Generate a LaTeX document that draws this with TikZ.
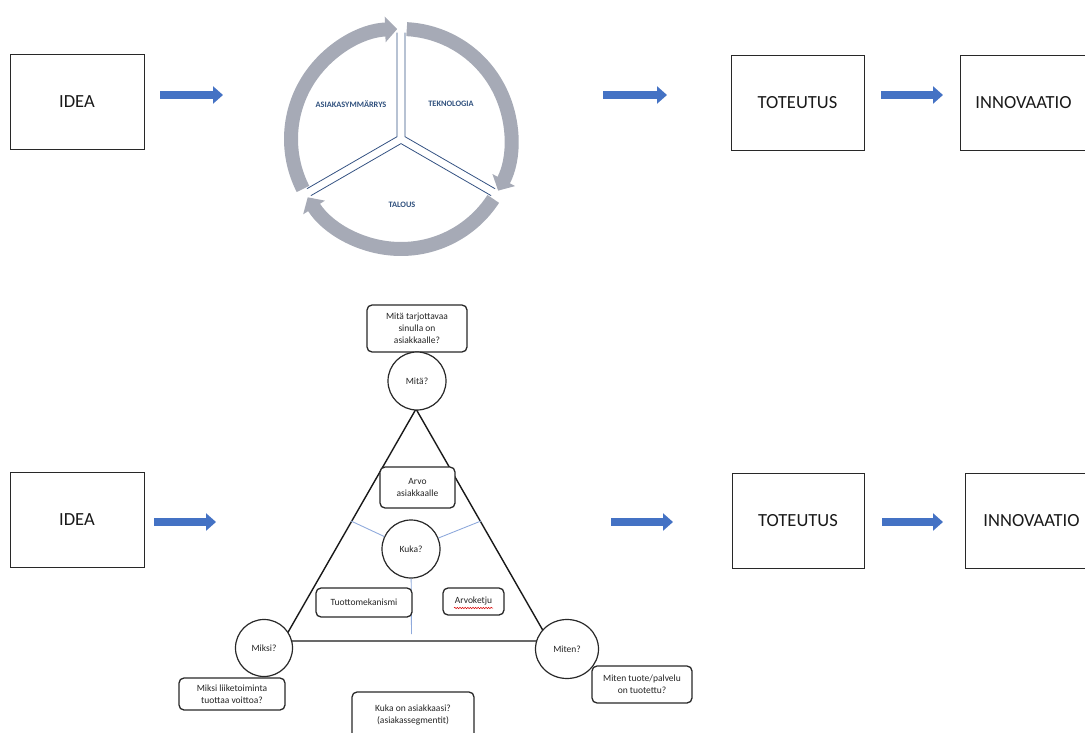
\documentclass[tikz,border=0pt]{standalone}
\usepackage{fontspec}
\setmainfont{Carlito}
\usetikzlibrary{arrows.meta,calc,decorations.pathmorphing,shapes.geometric}
\definecolor{arrowblue}{RGB}{68,114,196}
\definecolor{ringgray}{RGB}{166,170,182}
\definecolor{sectorblue}{RGB}{52,82,130}
\definecolor{labelblue}{RGB}{47,80,125}
\definecolor{spokeblue}{RGB}{143,170,220}
\definecolor{inkgray}{RGB}{40,40,40}

\begin{document}
\begin{tikzpicture}[x=1pt,y=-1pt,
  stagebox/.style={draw=inkgray, line width=0.9pt, minimum height=95pt, inner sep=0pt,
    font=\fontsize{18.5}{22}\selectfont, text=black!90},
  flowarrow/.style={draw=arrowblue, line width=8pt, -{Triangle[length=10pt,width=17pt]}},
  ringarc/.style={draw=ringgray, line width=14pt, -{Triangle[length=12pt,width=25pt]}},
  sectoredge/.style={draw=sectorblue, line width=0.8pt, line join=miter},
  ringlabel/.style={text=labelblue, font=\fontsize{8.3}{10}\selectfont\bfseries, inner sep=0pt},
  qbox/.style={draw=inkgray, line width=1.3pt, rounded corners=5pt, fill=white, align=center,
    inner sep=0pt, font=\fontsize{9.5}{12}\selectfont, text=black!85},
  qcircle/.style={circle, draw=inkgray, line width=1.2pt, fill=white, inner sep=0pt,
    font=\fontsize{9.5}{12}\selectfont, text=black!85},
  qoval/.style={ellipse, draw=inkgray, line width=1.2pt, fill=white, inner sep=0pt,
    font=\fontsize{9.5}{12}\selectfont, text=black!85},
  triedge/.style={draw=black!90, line width=1.4pt},
  spoke/.style={draw=spokeblue, line width=0.9pt}
]
\useasboundingbox (0,0) rectangle (1085,733);

% ---------------- upper chain ----------------
\node[stagebox, minimum width=134pt] (idea1) at (77,102) {IDEA};
\node[stagebox, minimum width=133pt] (tot1) at (797.5,102.5) {TOTEUTUS};
\node[stagebox, minimum width=127pt] (inn1) at (1023.5,102.5) {INNOVAATIO};

\coordinate (a1s) at (160,95);  \coordinate (a1e) at (223,95);
\coordinate (a2s) at (603,95);  \coordinate (a2e) at (667,95);
\coordinate (a3s) at (881,95);  \coordinate (a3e) at (943,95);
\draw[flowarrow] (a1s) -- (a1e);
\draw[flowarrow] (a2s) -- (a2e);
\draw[flowarrow] (a3s) -- (a3e);

% cycle of three sectors with circular arrows
\begin{scope}[shift={(401pt,-139pt)}, x=1pt, y=1pt]
  \draw[ringarc] (207:110) arc[start angle=207, end angle=92, radius=110];
  \draw[ringarc] (87:110) arc[start angle=87, end angle=-28, radius=110];
  \draw[ringarc] (-33:110) arc[start angle=-33, end angle=-148, radius=110];
  \foreach \a in {-30,90,210} {
    \draw[sectoredge] ($(\a+60:4.6)+(\a:104)$) -- (\a+60:4.6) -- ($(\a+60:4.6)+(\a+120:104)$);
  }
\end{scope}
\node[ringlabel] (asiakas) at (351,104) {ASIAKASYMMÄRRYS};
\node[ringlabel] (tekno) at (451,104) {TEKNOLOGIA};
\node[ringlabel] (talous) at (402,205) {TALOUS};

% ---------------- lower chain ----------------
\node[stagebox, minimum width=134pt] (idea2) at (77,520) {IDEA};
\node[stagebox, minimum width=132pt] (tot2) at (798,520.5) {TOTEUTUS};
\node[stagebox, minimum width=133pt] (inn2) at (1031.5,520.5) {INNOVAATIO};

\coordinate (b1s) at (154,522);  \coordinate (b1e) at (216,522);
\coordinate (b2s) at (611,522);  \coordinate (b2e) at (673,522);
\coordinate (b3s) at (882,522);  \coordinate (b3e) at (943,522);
\draw[flowarrow] (b1s) -- (b1e);
\draw[flowarrow] (b2s) -- (b2e);
\draw[flowarrow] (b3s) -- (b3e);

% business model triangle
\coordinate (tA) at (416,409);
\coordinate (tB) at (283,641);
\coordinate (tC) at (549,641);
\draw[triedge] (tA) -- (tB) -- (tC) -- cycle;

\node[qcircle, minimum size=58pt] (kuka) at (411,549) {Kuka?};
\coordinate (sL) at (351,521);
\coordinate (sR) at (481,521);
\coordinate (sD) at (411.5,634);
\draw[spoke] (kuka) -- (sL);
\draw[spoke] (kuka) -- (sR);
\draw[spoke] (kuka) -- (sD);

\node[qbox, minimum width=100pt, minimum height=47pt] (mitaq) at (417,328.5)
  {Mitä tarjottavaa\\sinulla on\\asiakkaalle?};
\node[qbox, minimum width=75pt, minimum height=41pt] (arvo) at (417.5,487.5)
  {Arvo\\asiakkaalle};
\node[qbox, minimum width=96pt, minimum height=29pt] (tuotto) at (364,602.5)
  {Tuottomekanismi};
\node[qbox, minimum width=61pt, minimum height=27pt] (arvoketju) at (473.5,601.5)
  {Arvoketju};
\draw[red!85!black, line width=0.5pt, decorate,
      decoration={snake, amplitude=0.7pt, segment length=2.6pt}]
  ([xshift=-19.5pt,yshift=-6.5pt]arvoketju.center) -- ([xshift=19.5pt,yshift=-6.5pt]arvoketju.center);
\node[qbox, minimum width=106pt, minimum height=32pt] (miksiq) at (232,694)
  {Miksi liiketoiminta\\tuottaa voittoa?};
\node[qbox, minimum width=122pt, minimum height=46pt] (kukaq) at (413,715)
  {Kuka on asiakkaasi?\\(asiakassegmentit)};
\node[qbox, minimum width=100pt, minimum height=37pt] (mitenq) at (642,684.5)
  {Miten tuote/palvelu\\on tuotettu?};

\node[qcircle, minimum size=58pt] (mita) at (417,381) {Mitä?};
\node[qcircle, minimum size=57pt] (miksi) at (264,648) {Miksi?};
\node[qoval, minimum width=63pt, minimum height=59pt] (miten) at (567,649) {Miten?};
\end{tikzpicture}
\end{document}
